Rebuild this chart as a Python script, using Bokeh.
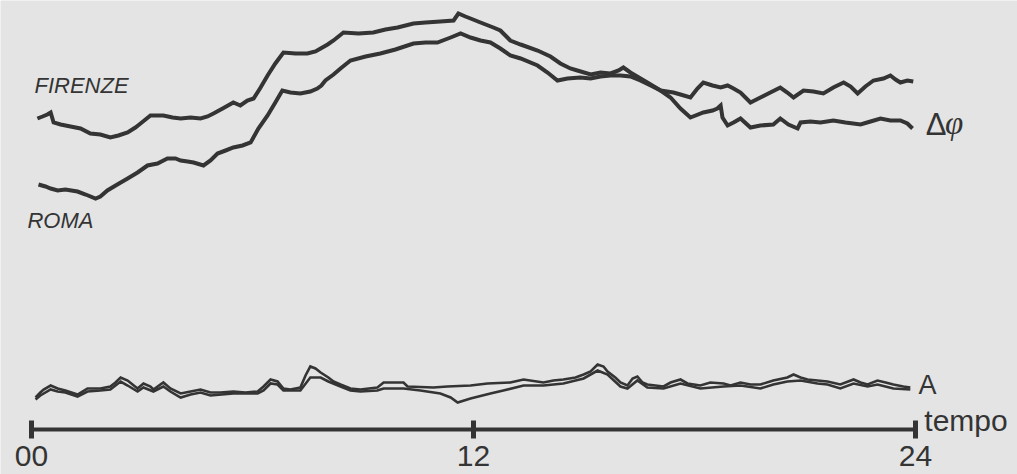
from bokeh.plotting import figure
from bokeh.models import Range1d, LinearAxis, FixedTicker, Label
from bokeh.embed import file_html
from bokeh.resources import INLINE

# ---- data (time in hours, signals in arbitrary units) ----
firenze_t = [0.16, 0.30, 0.43, 0.52, 0.60, 0.79, 1.06, 1.33, 1.60, 1.87, 2.14, 2.36, 2.61, 2.82, 2.96,
             3.23, 3.58, 3.83, 4.05, 4.32, 4.59, 4.78, 4.94, 5.19, 5.48, 5.67, 5.86, 6.03, 6.22, 6.41,
             6.62, 6.84, 7.17, 7.49, 7.71, 7.85, 8.04, 8.20, 8.47, 8.88, 9.28, 9.61, 9.94, 10.37, 10.70,
             11.10, 11.46, 11.59, 11.78, 11.92, 12.19, 12.54, 12.73, 13.00, 13.28, 13.74, 14.09, 14.36,
             14.63, 14.82, 15.18, 15.45, 15.72, 15.94, 16.07, 16.26, 16.72, 17.08, 17.43, 17.62, 17.89,
             18.08, 18.24, 18.49, 18.71, 18.90, 19.06, 19.25, 19.52, 19.79, 20.06, 20.33, 20.52, 20.69,
             20.96, 21.23, 21.50, 21.77, 22.05, 22.24, 22.43, 22.64, 22.86, 23.13, 23.32, 23.46, 23.59,
             23.78, 23.94]
firenze_v = [31.2, 31.4, 31.6, 31.8, 30.8, 30.6, 30.4, 30.2, 29.7, 29.6, 29.3, 29.5, 29.8, 30.3, 30.7,
             31.5, 31.5, 31.3, 31.2, 31.3, 31.2, 31.4, 31.7, 32.2, 32.8, 32.5, 33.0, 33.2, 34.3, 35.5,
             36.7, 37.8, 37.7, 37.7, 37.9, 38.2, 38.6, 39.0, 39.8, 39.7, 39.8, 40.1, 40.3, 40.7, 40.8,
             40.9, 41.0, 41.7, 41.4, 41.2, 40.8, 40.3, 40.0, 39.0, 38.6, 38.0, 37.4, 36.7,
             36.2, 36.0, 35.6, 35.8, 35.7, 36.0, 36.3, 35.8, 34.8, 34.0, 33.8, 33.6, 33.3,
             34.2, 34.8, 34.5, 34.3, 34.5, 34.2, 33.8, 32.8, 33.3, 33.8, 34.3, 33.8, 33.3,
             34.0, 33.9, 33.7, 34.3, 34.8, 34.4, 33.7, 34.4, 35.0, 35.2, 35.5, 35.1, 34.8,
             35.0, 34.9]

roma_t = [0.19, 0.38, 0.52, 0.71, 0.92, 1.25, 1.47, 1.74, 1.87, 2.06, 2.33, 2.61, 2.88, 3.15, 3.42,
          3.69, 3.91, 4.05, 4.24, 4.40, 4.67, 4.86, 5.05, 5.27, 5.48, 5.73, 5.95, 6.16, 6.41, 6.62,
          6.81, 7.03, 7.30, 7.57, 7.76, 7.87, 7.98, 8.20, 8.39, 8.66, 9.07, 9.47, 9.88, 10.37, 10.70,
          11.02, 11.38, 11.65, 11.92, 12.19, 12.46, 12.73, 13.00, 13.28, 13.74, 14.01, 14.28, 14.55,
          14.90, 15.18, 15.45, 15.72, 15.99, 16.26, 16.53, 16.81, 17.08, 17.35, 17.62, 17.89, 18.24,
          18.49, 18.62, 18.71, 18.76, 18.90, 19.06, 19.25, 19.52, 19.79, 20.14, 20.33, 20.55, 20.80,
          20.88, 21.15, 21.42, 21.77, 22.10, 22.51, 22.78, 23.05, 23.32, 23.59, 23.78, 23.92]
roma_v = [24.6, 24.4, 24.2, 24.0, 24.1, 23.9, 23.6, 23.2, 23.4, 24.0, 24.6, 25.2, 25.8, 26.5, 26.7,
          27.2, 27.2, 27.0, 26.9, 26.8, 26.5, 27.0, 27.7, 28.0, 28.3, 28.5, 28.8, 30.2, 31.5, 32.8,
          34.0, 33.8, 33.7, 33.9, 34.2, 34.5, 35.0, 35.6, 36.2, 37.0, 37.4, 37.7, 38.1, 38.7, 38.8,
          38.8, 39.3, 39.7, 39.3, 39.0, 38.8, 38.2, 37.5, 37.2, 36.5, 35.8, 35.0, 35.2,
          35.3, 35.2, 35.4, 35.5, 35.5, 35.4, 35.0, 34.5, 34.0, 33.3, 32.2, 31.3, 31.8,
          32.0, 32.2, 32.5, 31.3, 30.5, 30.8, 31.2, 30.3, 30.5, 30.6, 31.2, 30.6, 30.2,
          30.8, 30.9, 30.8, 31.0, 30.8, 30.6, 30.9, 31.2, 31.0, 31.0, 30.7, 30.2]

a1_t = [0.11, 0.24, 0.33, 0.52, 0.71, 0.92, 1.25, 1.52, 1.87, 2.14, 2.28, 2.42, 2.61, 2.88, 3.04,
        3.23, 3.31, 3.58, 3.77, 4.05, 4.32, 4.59, 4.86, 5.13, 5.48, 5.81, 6.14, 6.30, 6.49, 6.68,
        6.84, 7.03, 7.30, 7.44, 7.57, 7.71, 7.85, 8.06, 8.20, 8.39, 8.66, 8.93, 9.39, 9.56, 10.10,
        10.21, 10.91, 11.29, 11.92, 12.38, 13.00, 13.36, 13.90, 14.17, 14.44, 14.77, 14.99, 15.18,
        15.37, 15.53, 15.64, 15.85, 15.99, 16.18, 16.32, 16.45, 16.59, 16.72, 16.94, 17.16, 17.35,
        17.62, 17.81, 18.16, 18.43, 18.79, 18.98, 19.25, 19.52, 19.79, 20.14, 20.52, 20.69, 20.88,
        21.07, 21.34, 21.61, 21.96, 22.32, 22.51, 22.70, 22.97, 23.19, 23.40, 23.67, 23.86]
a1_v = [3.3, 3.8, 4.1, 4.5, 4.2, 4.0, 3.6, 4.2, 4.2, 4.4, 4.8, 5.3, 5.0, 4.2, 4.7,
        4.4, 4.1, 4.8, 4.2, 3.7, 3.9, 4.1, 3.8, 3.8, 3.9, 3.8, 3.9, 4.4, 5.1, 4.9,
        4.2, 4.1, 4.3, 5.5, 6.4, 6.2, 5.8, 5.3, 4.9, 4.6, 4.2, 4.1, 4.3, 4.8, 4.8,
        4.4, 4.3, 4.4, 4.5, 4.7, 4.8, 5.1, 4.8, 5.0, 5.1, 5.3, 5.6, 5.9,
        6.6, 6.4, 5.9, 5.3, 4.8, 4.5, 5.2, 5.4, 4.8, 4.6, 4.5, 4.4, 4.8,
        5.1, 4.7, 4.5, 4.8, 4.7, 4.5, 4.8, 4.6, 4.6, 5.0, 5.3, 5.6, 5.3,
        5.1, 5.0, 4.9, 4.6, 5.1, 4.8, 4.6, 5.0, 4.8, 4.6, 4.4, 4.3]

a2_t = [0.11, 0.24, 0.52, 0.71, 0.92, 1.25, 1.52, 1.87, 2.14, 2.42, 2.61, 2.88, 3.04, 3.31, 3.58,
        3.77, 4.05, 4.32, 4.59, 4.86, 5.48, 6.14, 6.30, 6.49, 6.68, 6.84, 7.30, 7.57, 7.85, 8.06,
        8.39, 8.66, 8.93, 9.39, 9.56, 10.10, 10.56, 11.10, 11.38, 11.57, 11.92, 12.46, 12.81, 13.36,
        13.90, 14.44, 14.99, 15.37, 15.64, 15.99, 16.18, 16.45, 16.72, 17.16, 17.62, 18.16, 18.79,
        19.25, 19.79, 20.14, 20.52, 20.88, 21.34, 21.61, 21.96, 22.32, 22.70, 22.97, 23.40, 23.86]
a2_v = [3.1, 3.5, 4.1, 3.9, 3.8, 3.4, 3.9, 4.0, 4.1, 4.9, 4.5, 3.9, 4.3, 3.9, 4.4,
        3.9, 3.3, 3.6, 3.8, 3.5, 3.7, 3.7, 4.0, 4.7, 4.6, 4.0, 4.0, 5.3, 5.3, 4.9,
        4.4, 4.0, 3.9, 4.0, 4.2, 4.2, 4.0, 3.7, 3.3, 2.8, 3.2, 3.7, 4.0, 4.5,
        4.5, 4.7, 5.2, 6.0, 5.6, 4.4, 4.2, 5.0, 4.3, 4.2, 4.7, 4.2, 4.4,
        4.5, 4.2, 4.6, 4.9, 5.0, 4.7, 4.6, 4.2, 4.7, 4.4, 4.6, 4.2, 4.1]

time_ticks = [0, 12, 24]
time_tick_labels = ["00", "12", "24"]

PAPER = "#e4e4e4"
INK = "#343434"

p = figure(width=1017, height=474, output_backend="svg", toolbar_location=None,
           x_range=Range1d(-0.8416, 26.770), y_range=Range1d(-4.4, 43.0),
           x_axis_type=None, y_axis_type=None,
           min_border=0, min_border_left=0, min_border_right=0,
           min_border_top=0, min_border_bottom=0)
p.background_fill_color = PAPER
p.border_fill_color = PAPER
p.outline_line_color = None
p.grid.visible = False

p.line(firenze_t, firenze_v, line_color=INK, line_width=4, line_join="miter")
p.line(roma_t, roma_v, line_color=INK, line_width=4, line_join="miter")
p.line(a1_t, a1_v, line_color=INK, line_width=2.6, line_join="miter")
p.line(a2_t, a2_v, line_color=INK, line_width=2.6, line_join="miter")

ax = LinearAxis(fixed_location=0.1, bounds=(0, 24),
                ticker=FixedTicker(ticks=time_ticks, minor_ticks=[]),
                major_label_overrides={t: s for t, s in zip(time_ticks, time_tick_labels)})
ax.axis_line_color = INK
ax.axis_line_width = 4
ax.major_tick_line_color = INK
ax.major_tick_line_width = 5
ax.major_tick_in = 9
ax.major_tick_out = 9
ax.minor_tick_line_color = None
ax.major_label_standoff = 7
ax.major_label_text_font = "Liberation Sans"
ax.major_label_text_font_size = "30px"
ax.major_label_text_color = INK
p.add_layout(ax, "below")

def lab(x, y, text, size, font="Liberation Sans", style="normal"):
    p.add_layout(Label(x=x, y=y, text=text, text_font=font, text_font_size=size,
                       text_font_style=style, text_color=INK,
                       text_baseline="alphabetic", text_align="left"))

lab(0.08, 34.5, "FIRENZE", "22px", style="italic")
lab(-0.11, 21.0, "ROMA", "22px", style="italic")
lab(24.28, 30.6, "Δ", "31px")
lab(24.80, 30.8, "φ", "33px", font="Liberation Serif", style="italic")
lab(24.08, 4.6, "A", "27px")
lab(24.24, 1.0, "tempo", "30px")

open("out.html", "w").write(file_html(p, INLINE))
